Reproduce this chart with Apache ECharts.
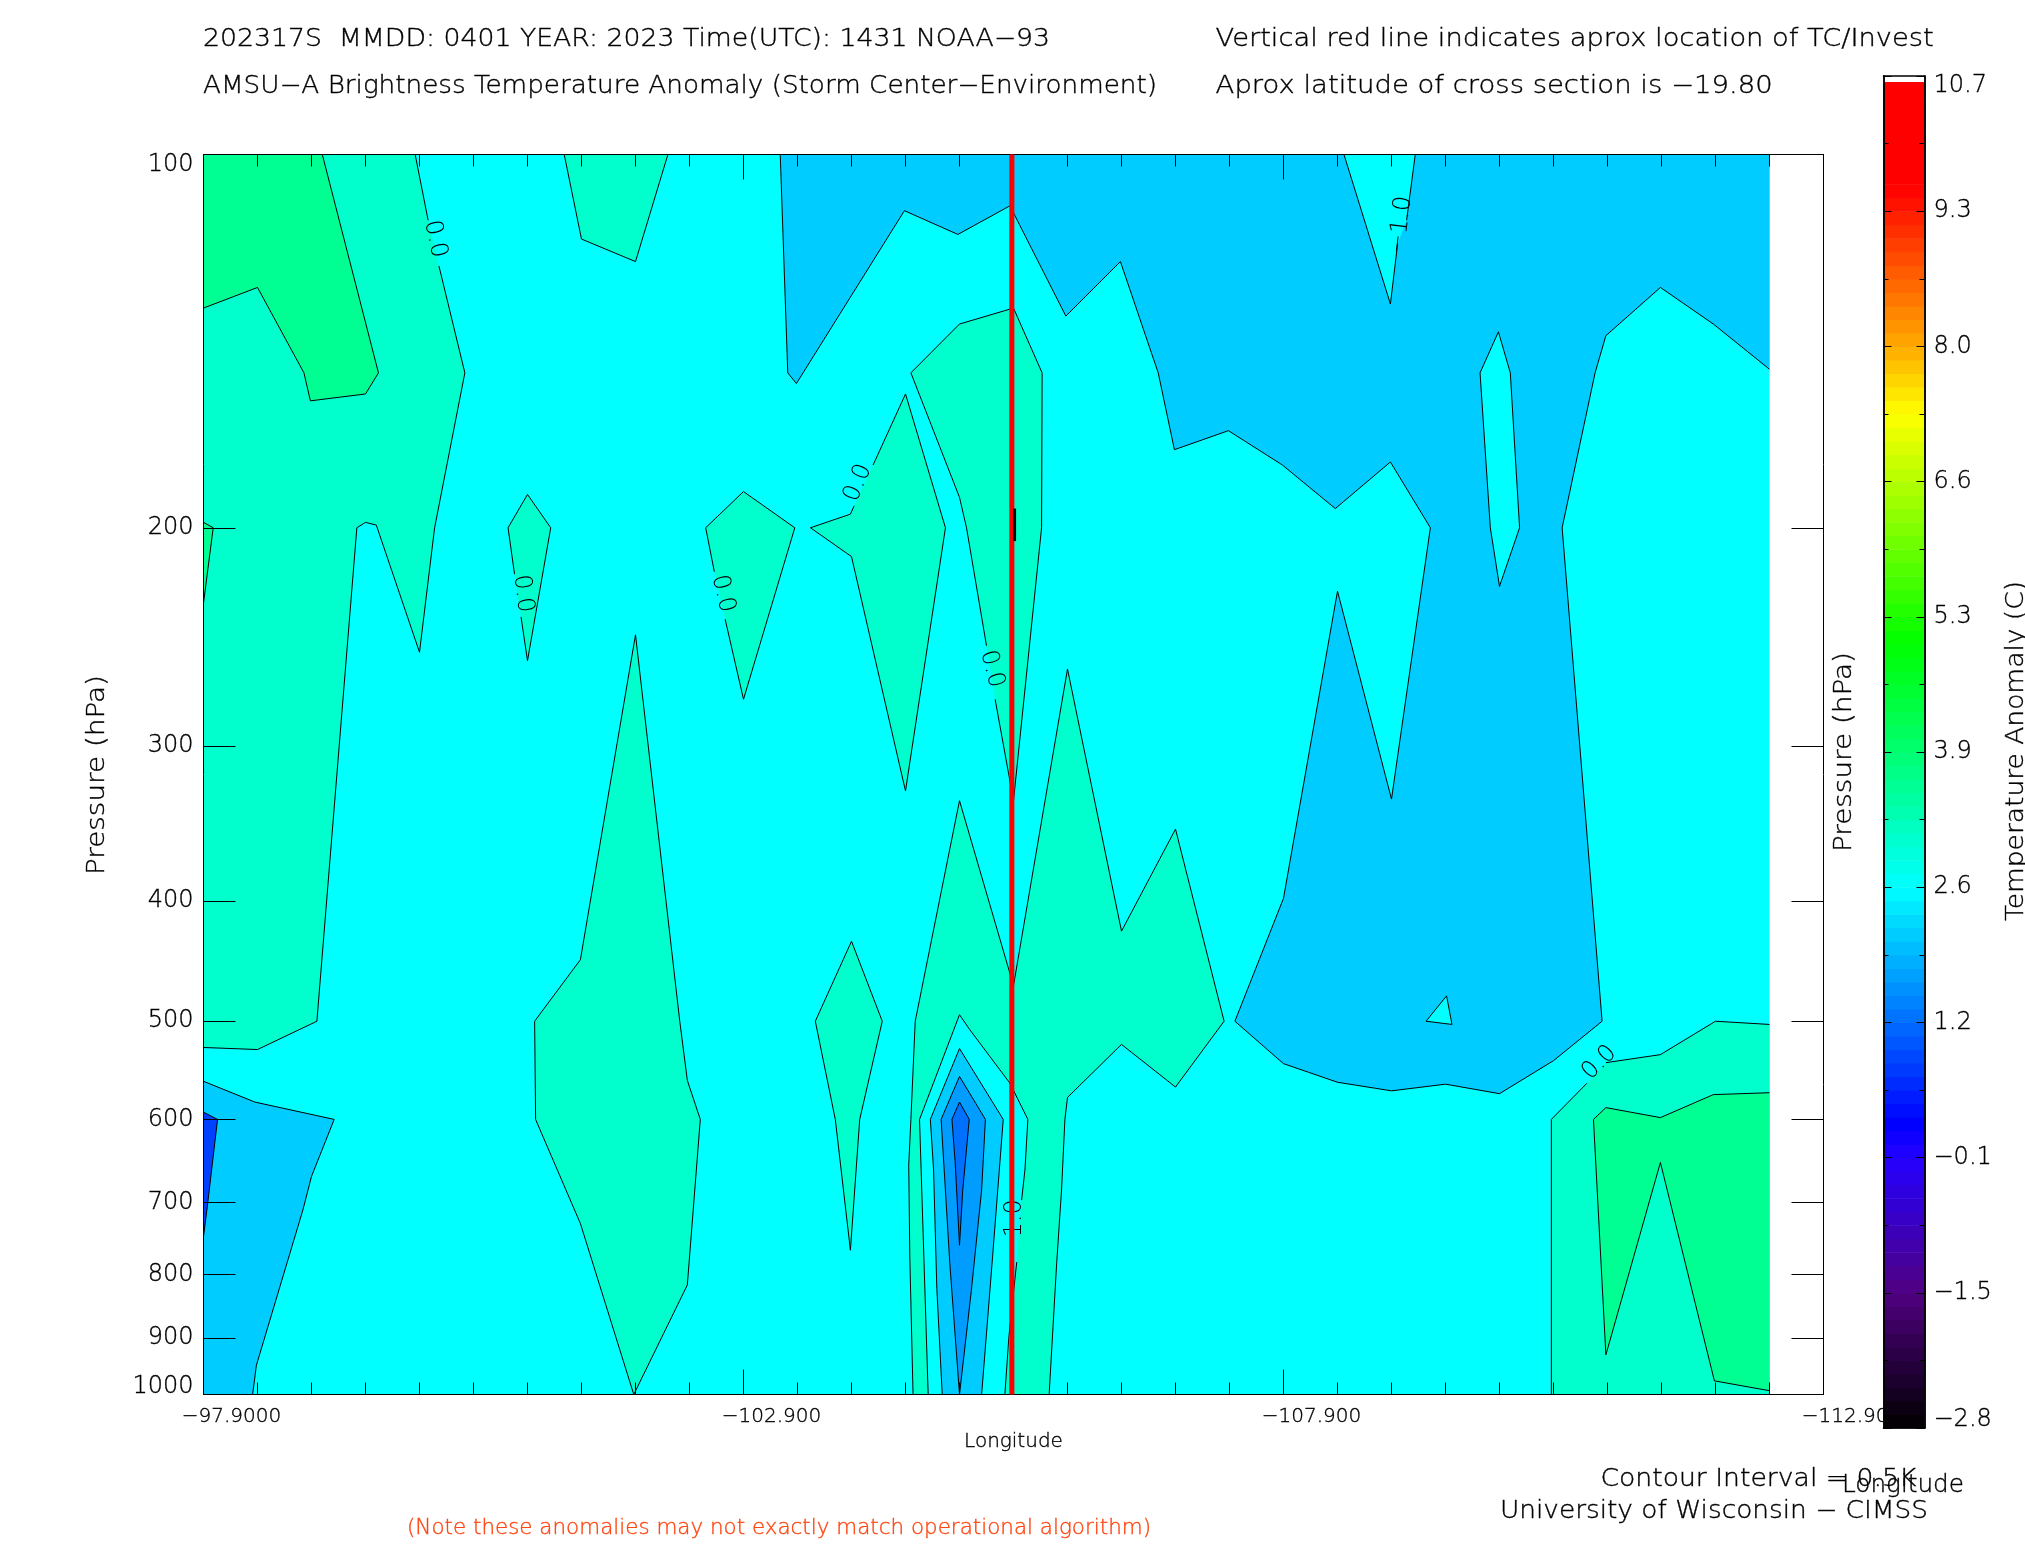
<!DOCTYPE html>
<html>
<head>
<meta charset="utf-8">
<style>html,body{margin:0;padding:0;background:#fff}#c{width:2025px;height:1550px}</style>
<script src="https://cdn.jsdelivr.net/npm/echarts@6/dist/echarts.min.js"></script>
</head>
<body>
<div id="c"></div>
<script>
// ---------- axis values ----------
const lonMajor = [-97.9, -102.9, -107.9, -112.9];
const lonMajorLabels = ['−97.9000', '−102.900', '−107.900', '−112.900'];
const lonMinor = [-98.4,-98.9,-99.4,-99.9,-100.4,-100.9,-101.4,-101.9,-102.4,-103.4,-103.9,-104.4,-104.9,-105.4,-105.9,-106.4,-106.9,-107.4,-108.4,-108.9,-109.4,-109.9,-110.4,-110.9,-111.4,-111.9,-112.4];
const pressureLabels = [100,200,300,400,500,600,700,800,900,1000];
const pressureTicks = [200,300,400,500,600,700,800,900];
const cbarMajor = [-2.8,-1.45,-0.1,1.25,2.6,3.95,5.3,6.65,8,9.35,10.7];
const cbarLabels = ['−2.8','−1.5','−0.1','1.2','2.6','3.9','5.3','6.6','8.0','9.3','10.7'];
const cbarMinor = [-2.125,-0.775,0.575,1.925,3.275,4.625,5.975,7.325,8.675,10.025];
const stormLon = -105.385;
const contourOverStorm = [[-105.41,193],[-105.41,205]];

// ---------- contour outlines: [longitude, pressure]; null = no contour line on that stretch ----------
const domainBox = [[-97.9,100],null,[-112.4,100],null,[-112.4,1000],null,[-97.9,1000]];
const tealLeft = [[-99.86,100],[-99.98,113],null,[-100.08,123],[-100.32,150],[-100.04,200],[-99.9,252],[-99.5,199],[-99.4,198],[-99.32,200],[-98.95,500],[-98.4,527],[-97.9,525],null,[-97.9,100]];
const tealTop = [[-101.24,100],[-101.4,117],[-101.9,122],[-102.2,100]];
const tealDiamondA = [[-100.72,200],[-100.9,188],[-101.115,200],[-100.9,256],[-100.84,236],null,[-100.78,218],[-100.72,200]];
const tealDiamondB = [[-102.55,200],[-102.9,187],[-103.375,200],[-102.9,275],[-102.73,237],null,[-102.63,217],[-102.55,200]];
const tealSpike = [[-103.52,200],[-103.89,195],[-103.925,192],null,[-104.1,178],[-104.4,156],[-104.77,200],[-104.4,326],[-103.9,211],[-103.52,200]];
const tealCenter = [[-104.45,150],[-104.9,137],[-105.4,133],[-105.665,150],[-105.66,200],[-105.4,332],[-105.23,275],null,[-105.15,249],[-104.965,200],[-104.9,189],[-104.45,150]];
const tealMountain = [[-104.47,1000],[-104.44,775],[-104.43,653],[-104.45,600],[-104.49,500],[-104.9,332],[-105.4,468],[-105.9,260],[-106.4,423],[-106.9,350],[-107.35,500],[-106.9,565],[-106.4,522],[-105.9,576],[-105.876,600],[-105.845,684],[-105.8,783],[-105.73,1000]];
const tealCone = [[-103.565,500],[-103.9,431],[-104.185,500],[-103.976,600],[-103.89,765],[-103.75,600],[-103.565,500]];
const tealBelly = [[-101.9,244],[-101.39,446],[-100.966,500],[-100.975,600],[-101.39,728],[-101.884,1000],[-102.38,816],[-102.5,600],[-102.38,558],[-102.31,500],[-101.9,244]];
const tealLowerRight = [[-112.4,503],[-111.9,500],[-111.39,532],[-110.885,540],null,[-110.71,561],[-110.38,600],[-110.38,1000],null,[-112.4,1000]];
const cyanHole = [[-104.61,1000],[-104.57,775],[-104.53,600],[-104.9,494],[-104.996,508],[-105.367,561],[-105.533,600],[-105.506,659],[-105.475,697],null,[-105.43,782],[-105.404,821],[-105.357,899],[-105.32,1000]];
const coreBlue1 = [[-104.74,1000],[-104.69,821],[-104.66,659],[-104.63,600],[-104.9,526],[-105.305,600],[-105.206,775],[-105.105,1000]];
const coreBlue2 = [[-104.9,1000],[-104.81,783],[-104.73,600],[-104.9,554],[-105.14,600],[-105.105,684],[-105.01,824],[-104.9,1000]];
const coreBlue3 = [[-104.9,758],[-104.86,650],[-104.83,600],[-104.9,581],[-104.99,600],[-104.93,684],[-104.9,758]];
const greenUpperLeft = [[-99.0,100],[-99.52,150],[-99.4,156],[-98.89,158],[-98.83,150],[-98.4,128],[-97.9,133],null,[-97.9,100]];
const greenEdge = [[-97.9,198],[-97.99,200],[-97.9,230]];
const greenLowerRight = [[-110.77,600],[-110.885,587],[-111.39,598],[-111.88,573],[-112.4,571],null,[-112.4,993],[-111.89,975],[-111.39,650],[-110.885,929],[-110.77,600]];
const blueLowerLeft = [[-97.9,559],[-98.376,581],[-99.11,600],[-98.9,667],[-98.82,710],[-98.39,947],[-98.355,1000],null,[-97.9,1000]];
const deepLowerLeft = [[-97.9,592],[-98.03,600],[-97.94,700],[-97.9,746]];
const blueUpperRight = [[-103.24,100],[-103.31,150],[-103.39,153],[-104.39,111],[-104.885,116],[-105.367,110],[-105.885,135],[-106.39,122],[-106.74,150],[-106.89,173],[-107.39,167],[-107.89,178],[-108.38,193],[-108.89,177],[-109.26,200],[-108.9,331],[-108.4,225],[-107.9,398],[-107.45,500],[-107.9,541],[-108.4,560],[-108.9,569],[-109.4,562],[-109.9,572],[-110.4,538],[-110.85,500],[-110.48,200],[-110.785,150],[-110.885,140],[-111.39,128],[-111.88,137],[-112.4,149],null,[-112.4,100]];
const cyanWedge = [[-108.46,100],[-108.89,132],[-108.957,118],null,[-109.04,113],[-109.12,100]];
const cyanSlit = [[-109.72,150],[-109.89,139],[-110,150],[-110.086,200],[-109.9,223],[-109.815,200],[-109.72,150]];
const cyanSpeck = [[-109.22,500],[-109.41,477],[-109.46,503],[-109.22,500]];

// ---------- contour labels ----------
const labelText = ['0.0','0.0','0.0','0.0','0.0','−1.0','1.0','0.0'];
const labelLon = [-100.045,-100.858,-102.71,-103.96,-105.2,-108.986,-105.413,-110.825];
const labelP = [117,226,226,184,260,114,721,540];
const labelAngle = [-78,-83,-77,67,-75,83,90,45];

// ---------- colours ----------
const CYAN='#00FFFF',TEAL='#00FFCC',GREEN='#00FF92',BLUE='#00CCFF',BLUE2='#009CFF',BLUE3='#0070FF',DEEP='#0040FF';
const contourLayers = [
  [domainBox,CYAN],[tealLeft,TEAL],[tealTop,TEAL],[tealDiamondA,TEAL],[tealDiamondB,TEAL],[tealSpike,TEAL],
  [tealCenter,TEAL],[tealMountain,TEAL],[tealCone,TEAL],[tealBelly,TEAL],[tealLowerRight,TEAL],
  [cyanHole,CYAN],[coreBlue1,BLUE],[coreBlue2,BLUE2],[coreBlue3,BLUE3],
  [greenUpperLeft,GREEN],[greenEdge,GREEN],[greenLowerRight,GREEN],
  [blueLowerLeft,BLUE],[deepLowerLeft,DEEP],[blueUpperRight,BLUE],[cyanWedge,CYAN],[cyanSlit,CYAN],[cyanSpeck,CYAN]
];
const rampStops = [[-2.8,[0,0,0]],[-1.45,[80,0,128]],[-0.1,[36,0,255]],[0.245,[0,0,255]],[2.6,[0,255,255]],[5.04,[0,255,0]],[7.33,[255,255,0]],[8,[255,170,0]],[9.59,[255,0,0]],[10.64,[255,0,0]]];
const bandStep = 0.135;
function rampColor(v){
  for(let i=1;i<rampStops.length;i++){
    if(v<=rampStops[i][0]){
      const a=rampStops[i-1],b=rampStops[i],t=(v-a[0])/(b[0]-a[0]);
      return 'rgb('+a[1].map((c,j)=>Math.round(c+(b[1][j]-c)*t)).join(',')+')';
    }
  }
  return '#ff0000';
}
const cbarBands=[];
for(let v=-2.8;v<10.64;v+=bandStep){cbarBands.push([v,Math.min(v+bandStep,10.64)]);}

// ---------- text ----------
const FONT='"DejaVu Sans"';
const FW=200;
const INK=0.35;
const measure=document.createElement('canvas').getContext('2d');
function txt(text,x,y,size,width,color,rot){
  measure.font=FW+' '+size+'px '+FONT;
  const w=measure.measureText(text).width;
  const c=color||'#000';
  return {type:'text',x:x,y:y,z:20,silent:true,scaleX:width/w,rotation:(rot||0)*Math.PI/180,
    style:{text:text,fill:c,stroke:c,lineWidth:INK,font:FW+' '+size+'px '+FONT,align:rot?'center':'left',verticalAlign:'middle'}};
}
const graphicTexts=[
  txt('202317S  MMDD: 0401 YEAR: 2023 Time(UTC): 1431 NOAA−93',203,40,24,847),
  txt('AMSU−A Brightness Temperature Anomaly (Storm Center−Environment)',203,87,24,954),
  txt('Vertical red line indicates aprox location of TC/Invest',1215.6,40,24,718),
  txt('Aprox latitude of cross section is −19.80',1215.6,87,24,557),
  txt('Contour Interval = 0.5K',1600.4,1480,24,316),
  txt('Longitude',1842,1486,24,122),
  txt('University of Wisconsin − CIMSS',1500,1511.5,24,428),
  txt('(Note these anomalies may not exactly match operational algorithm)',407,1529,21,744,'#FF4510'),
  txt('Pressure (hPa)',98,775,24,200,'#000',90),
  txt('Pressure (hPa)',1845,752,24,200,'#000',90),
  txt('Temperature Anomaly (C)',2017,751,24,340,'#000',90)
];

function contourItem(params,api){
  const layer=contourLayers[api.value(0)];
  const pts=layer[0];
  const children=[{type:'polygon',shape:{points:pts.filter(Boolean).map(p=>api.coord(p))},style:{fill:layer[1],stroke:null}}];
  let run=[];
  const flush=()=>{ if(run.length>1) children.push({type:'polyline',shape:{points:run},style:{fill:null,stroke:'#000',lineWidth:1}}); run=[]; };
  pts.forEach(p=>{ if(p) run.push(api.coord(p)); else flush(); });
  flush();
  return {type:'group',children};
}
function labelItem(params,api){
  const i=api.value(0);
  const pt=api.coord([labelLon[i],labelP[i]]);
  return {type:'text',x:pt[0],y:pt[1],rotation:labelAngle[i]*Math.PI/180,
    style:{text:labelText[i],fill:'#000',font:FW+' 24px '+FONT,align:'center',verticalAlign:'middle'}};
}
function bandItem(params,api){
  const band=cbarBands[api.value(0)];
  const a=api.coord([0,band[0]]),b=api.coord([1,band[1]]);
  return {type:'rect',shape:{x:a[0],y:b[1],width:b[0]-a[0],height:a[1]-b[1]+0.6},style:{fill:rampColor((band[0]+band[1])/2),stroke:null}};
}

const AL={color:'#000',width:1};
const INKED={textBorderColor:'#000',textBorderWidth:INK};
const plotXAxis=(pos,ticks,len,extra)=>Object.assign({type:'value',gridIndex:0,position:pos,inverse:true,min:-112.9,max:-97.9,z:5,
  splitLine:{show:false},axisLine:{show:true,onZero:false,lineStyle:AL},
  axisTick:{show:true,inside:true,length:len,customValues:ticks,lineStyle:AL},axisLabel:{show:false}},extra||{});
const plotYAxis=(pos,extra)=>Object.assign({type:'log',logBase:10,gridIndex:0,position:pos,inverse:true,min:100,max:1000,z:5,
  splitLine:{show:false},minorTick:{show:false},axisLine:{show:true,onZero:false,lineStyle:AL},
  axisTick:{show:true,inside:true,length:32,customValues:pressureTicks,lineStyle:AL},axisLabel:{show:false}},extra||{});
const cbarYAxis=(pos,ticks,len,extra)=>Object.assign({type:'value',gridIndex:1,position:pos,min:-2.8,max:10.7,z:9,
  splitLine:{show:false},axisLine:{show:true,onZero:false,lineStyle:{color:'#000',width:1.5}},
  axisTick:{show:true,inside:true,length:len,customValues:ticks,lineStyle:AL},axisLabel:{show:false}},extra||{});

const option={
  animation:false,
  backgroundColor:'#fff',
  grid:[
    {left:203.5,top:154.5,width:1620,height:1240,containLabel:false},
    {left:1883.5,top:76,width:41,height:1352,containLabel:false}
  ],
  xAxis:[
    plotXAxis('bottom',lonMajor,25,{
      name:'Longitude',nameLocation:'middle',nameGap:37,nameTextStyle:Object.assign({color:'#000',fontFamily:FONT,fontWeight:FW,fontSize:20},INKED),
      axisLabel:Object.assign({show:true,customValues:lonMajor,color:'#000',fontFamily:FONT,fontWeight:FW,fontSize:20,margin:12,align:'center',padding:[0,0,0,56],hideOverlap:false,
        formatter:v=>lonMajorLabels[lonMajor.findIndex(m=>Math.abs(m-v)<1e-6)]},INKED)}),
    plotXAxis('bottom',lonMinor,12),
    plotXAxis('top',lonMajor,25),
    plotXAxis('top',lonMinor,12),
    {type:'value',gridIndex:1,position:'bottom',min:0,max:1,z:9,splitLine:{show:false},axisTick:{show:false},axisLabel:{show:false},axisLine:{show:true,onZero:false,lineStyle:{color:'#000',width:1.5}}},
    {type:'value',gridIndex:1,position:'top',min:0,max:1,z:9,splitLine:{show:false},axisTick:{show:false},axisLabel:{show:false},axisLine:{show:true,onZero:false,lineStyle:{color:'#000',width:1.5}}}
  ],
  yAxis:[
    plotYAxis('left',{
      axisLabel:Object.assign({show:true,customValues:pressureLabels,color:'#000',fontFamily:FONT,fontWeight:FW,fontSize:24,margin:10,lineHeight:16,padding:[2,0,0,0],
        verticalAlignMinLabel:'top',verticalAlignMaxLabel:'bottom',showMinLabel:true,showMaxLabel:true,formatter:v=>String(Math.round(v))},INKED)}),
    plotYAxis('right'),
    cbarYAxis('left',cbarMajor,8),
    cbarYAxis('left',cbarMinor,5),
    cbarYAxis('right',cbarMajor,8,{axisLabel:Object.assign({show:true,customValues:cbarMajor,color:'#000',fontFamily:FONT,fontWeight:FW,fontSize:24,margin:9,align:'left',lineHeight:16,padding:[2,0,0,0],
      verticalAlignMinLabel:'bottom',verticalAlignMaxLabel:'top',showMinLabel:true,showMaxLabel:true,
      formatter:v=>cbarLabels[cbarMajor.findIndex(m=>Math.abs(m-v)<1e-6)]},INKED)}),
    cbarYAxis('right',cbarMinor,5)
  ],
  series:[
    {type:'custom',xAxisIndex:0,yAxisIndex:0,z:1,silent:true,clip:false,renderItem:contourItem,data:contourLayers.map((_,i)=>[i]),encode:{x:0,y:0}},
    {type:'custom',xAxisIndex:0,yAxisIndex:0,z:2,silent:true,clip:false,renderItem:labelItem,data:labelText.map((_,i)=>[i]),encode:{x:0,y:0}},
    {type:'line',xAxisIndex:0,yAxisIndex:0,z:6,silent:true,symbol:'none',lineStyle:{color:'#FF0000',width:5},data:[[stormLon,100],[stormLon,1000]]},
    {type:'line',xAxisIndex:0,yAxisIndex:0,z:7,silent:true,symbol:'none',lineStyle:{color:'#000',width:3},data:contourOverStorm},
    {type:'custom',xAxisIndex:4,yAxisIndex:2,z:8,silent:true,clip:false,renderItem:bandItem,data:cbarBands.map((_,i)=>[i]),encode:{x:0,y:0}}
  ],
  graphic:{elements:graphicTexts}
};
const chart=echarts.init(document.getElementById('c'),null,{renderer:'canvas'});
chart.setOption(option);
</script>
</body>
</html>
